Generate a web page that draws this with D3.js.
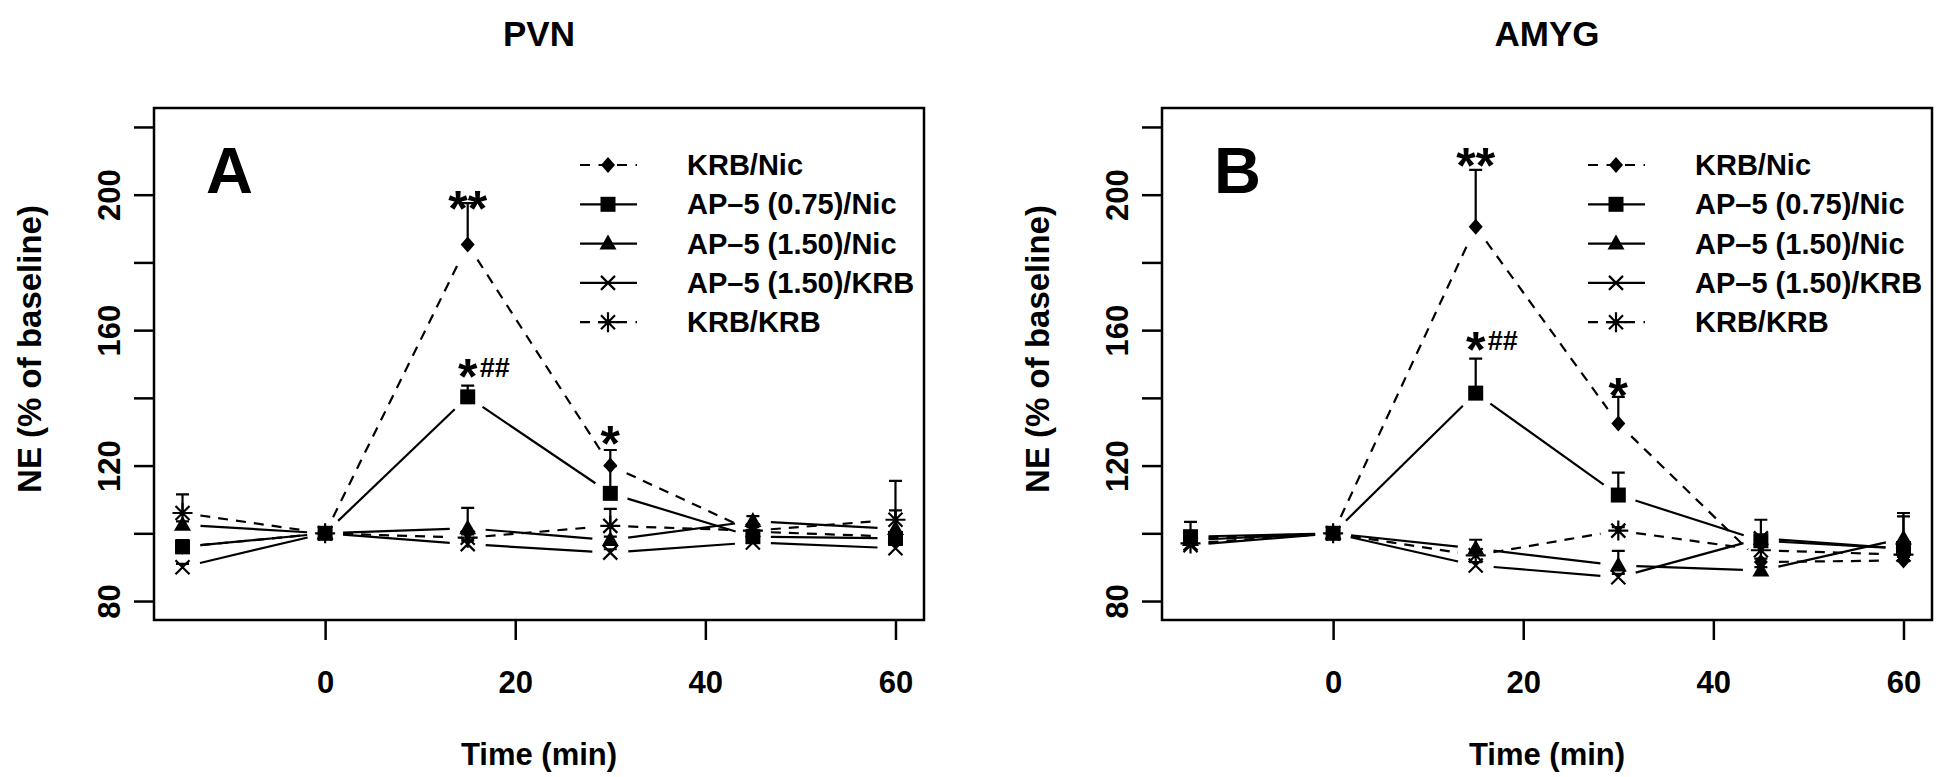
<!DOCTYPE html>
<html><head><meta charset="utf-8">
<script src="https://cdn.jsdelivr.net/npm/d3@7"></script>
<style>
body{margin:0;background:#fff}
svg{display:block}
text{font-family:"Liberation Sans",Arial,Helvetica,sans-serif;font-weight:bold;fill:#000}
</style>
</head><body><svg id="chart" width="1944" height="777"></svg>
<script>
// ---------------- data ----------------
const times = [-15, 0, 15, 30, 45, 60];
const seriesNames = ["KRB/Nic", "AP\u20135 (0.75)/Nic", "AP\u20135 (1.50)/Nic", "AP\u20135 (1.50)/KRB", "KRB/KRB"];

// PVN (panel A) means and SEM
const pvnKrbNic      = [96, 100, 185.3, 120.0, 100.5, 99];
const pvnAp075Nic    = [96, 100, 140.3, 111.8, 99, 98.5];
const pvnAp150Nic    = [102.5, 100, 101.5, 98, 103.6, 101.3];
const pvnAp150Krb    = [90, 100, 96.8, 94.3, 97.3, 95.6];
const pvnKrbKrb      = [106, 100, 98.7, 102.2, 100.8, 104];
const pvnKrbNicSe    = [0, 0, 12.2, 4.6, 2, 1];
const pvnAp075NicSe  = [2, 0, 3.3, 8, 1, 1];
const pvnAp150NicSe  = [1, 0, 6, 1, 1.5, 5.5];
const pvnAp150KrbSe  = [1, 0, 1, 1, 1, 1];
const pvnKrbKrbSe    = [5.5, 0, 1, 5, 1, 11.5];

// AMYG (panel B) means and SEM
const amygKrbNic     = [98.5, 100, 190.5, 132.4, 91.5, 92];
const amygAp075Nic   = [99, 100, 141.4, 111.3, 97.8, 95.5];
const amygAp150Nic   = [98, 100, 95.5, 90.5, 89, 98.5];
const amygAp150Krb   = [96.5, 100, 90.5, 87, 98.5, 95.5];
const amygKrbKrb     = [97, 100, 93.5, 100.8, 95, 93.7];
const amygKrbNicSe   = [1, 0, 16.8, 7.9, 1, 1];
const amygAp075NicSe = [4.4, 0, 10.2, 6.6, 6.2, 9.5];
const amygAp150NicSe = [1, 0, 2.6, 4.3, 1, 7.5];
const amygAp150KrbSe = [1, 0, 1, 1, 1, 1];
const amygKrbKrbSe   = [1, 0, 1, 1, 1, 1];

// significance annotations (x in min, y in % of baseline)
const annotText  = ["**", "*##", "*"];
const annotTime  = [15, 15, 30];
const pvnAnnotY  = [199.4, 149.8, 130.0];
const amygAnnotY = [212.1, 157.8, 144.0];

// axes
const yTicks = [80, 100, 120, 140, 160, 180, 200, 220];
const yTickLabels = [80, 120, 160, 200];
const xTicks = [0, 20, 40, 60];
const xLimits = [-15, 60];
const yLimits = [80, 220];

const panelTitles = ["PVN", "AMYG"];
const panelLetters = ["A", "B"];
const xAxisTitle = "Time (min)";
const yAxisTitle = "NE (% of baseline)";

// ---------------- styles / layout ----------------
const shapes = ["diamond", "square", "triangle", "cross", "asterisk"];
const dashed = [true, false, false, false, true];

const panels = [
  {left: 154, right: 924, title: panelTitles[0], letter: panelLetters[0],
   means: [pvnKrbNic, pvnAp075Nic, pvnAp150Nic, pvnAp150Krb, pvnKrbKrb],
   ses: [pvnKrbNicSe, pvnAp075NicSe, pvnAp150NicSe, pvnAp150KrbSe, pvnKrbKrbSe],
   annotY: pvnAnnotY},
  {left: 1162, right: 1932, title: panelTitles[1], letter: panelLetters[1],
   means: [amygKrbNic, amygAp075Nic, amygAp150Nic, amygAp150Krb, amygKrbKrb],
   ses: [amygKrbNicSe, amygAp075NicSe, amygAp150NicSe, amygAp150KrbSe, amygKrbKrbSe],
   annotY: amygAnnotY}
];
const plotTop = 108, plotBottom = 620;
const LW = 2.2;

const svg = d3.select("#chart");
svg.append("rect").attr("width", 1944).attr("height", 777).attr("fill", "#fff");

function pad(lim) { const s = (lim[1] - lim[0]) * 0.04; return [lim[0] - s, lim[1] + s]; }

function drawMarker(g, shape, cx, cy) {
  if (shape === "diamond") {
    g.append("path").attr("d", `M${cx},${cy-8}L${cx+7},${cy}L${cx},${cy+8}L${cx-7},${cy}Z`).attr("fill", "#000");
  } else if (shape === "square") {
    g.append("rect").attr("x", cx-7.5).attr("y", cy-7.5).attr("width", 15).attr("height", 15).attr("fill", "#000");
  } else if (shape === "triangle") {
    g.append("path").attr("d", `M${cx},${cy-9}L${cx+8.5},${cy+6}L${cx-8.5},${cy+6}Z`).attr("fill", "#000");
  } else if (shape === "cross") {
    g.append("path").attr("d", `M${cx-7},${cy-7}L${cx+7},${cy+7}M${cx-7},${cy+7}L${cx+7},${cy-7}`)
      .attr("stroke", "#000").attr("stroke-width", LW).attr("fill", "none");
  } else if (shape === "asterisk") {
    g.append("path").attr("d", `M${cx-7},${cy-7}L${cx+7},${cy+7}M${cx-7},${cy+7}L${cx+7},${cy-7}M${cx-10},${cy}L${cx+10},${cy}M${cx},${cy-10}L${cx},${cy+10}`)
      .attr("stroke", "#000").attr("stroke-width", LW).attr("fill", "none");
  }
}

panels.forEach(p => {
  const x = d3.scaleLinear().domain(pad(xLimits)).range([p.left, p.right]);
  const y = d3.scaleLinear().domain(pad(yLimits)).range([plotBottom, plotTop]);
  const g = svg.append("g");
  const cx = (p.left + p.right) / 2;

  // title
  g.append("text").attr("x", cx).attr("y", 46).attr("text-anchor", "middle")
    .attr("font-size", 35).text(p.title);

  // box
  g.append("rect").attr("x", p.left).attr("y", plotTop).attr("width", p.right - p.left)
    .attr("height", plotBottom - plotTop).attr("fill", "none").attr("stroke", "#000").attr("stroke-width", 2.5);

  // x axis
  const xAxis = d3.axisBottom(x).tickValues(xTicks).tickSize(20).tickPadding(31).tickFormat(d3.format("d"));
  const xg = g.append("g").attr("transform", `translate(0,${plotBottom})`).call(xAxis);
  xg.select(".domain").remove();
  xg.selectAll(".tick line").attr("stroke", "#000").attr("stroke-width", 2.5);
  xg.selectAll(".tick text").attr("font-size", 31).attr("font-family", null).attr("fill", "#000");

  // y axis
  const yAxis = d3.axisLeft(y).tickValues(yTicks).tickSize(20)
    .tickFormat(d => yTickLabels.includes(d) ? d : "");
  const yg = g.append("g").attr("transform", `translate(${p.left},0)`).call(yAxis);
  yg.select(".domain").remove();
  yg.selectAll(".tick line").attr("stroke", "#000").attr("stroke-width", 2.5);
  yg.selectAll(".tick text").attr("font-size", 31).attr("font-family", null).attr("fill", "#000")
    .attr("x", null).attr("dy", null).attr("text-anchor", "middle")
    .attr("transform", "translate(-45,0) rotate(-90)").attr("dominant-baseline", "central");

  // axis titles
  g.append("text").attr("x", cx).attr("y", 765).attr("text-anchor", "middle").attr("font-size", 31).text(xAxisTitle);
  g.append("text").attr("transform", `translate(${p.left - 125},${(plotTop + plotBottom) / 2 - 15}) rotate(-90)`)
    .attr("text-anchor", "middle").attr("dominant-baseline", "central").attr("font-size", 33).text(yAxisTitle);

  // panel letter
  g.append("text").attr("x", x(-15) + 47).attr("y", 193).attr("text-anchor", "middle")
    .attr("font-size", 65).text(p.letter);

  // series
  const gap = 18;
  p.means.forEach((vals, si) => {
    const pts = times.map((t, i) => [x(t), y(vals[i])]);
    for (let i = 0; i < pts.length - 1; i++) {
      const [x0, y0] = pts[i], [x1, y1] = pts[i + 1];
      const len = Math.hypot(x1 - x0, y1 - y0);
      if (len <= 2 * gap) continue;
      const ux = (x1 - x0) / len, uy = (y1 - y0) / len;
      g.append("line").attr("x1", x0 + ux * gap).attr("y1", y0 + uy * gap)
        .attr("x2", x1 - ux * gap).attr("y2", y1 - uy * gap)
        .attr("stroke", "#000").attr("stroke-width", LW)
        .attr("stroke-dasharray", dashed[si] ? "10,8" : null);
    }
    // error bars
    times.forEach((t, i) => {
      const se = p.ses[si][i];
      if (!se) return;
      const xx = x(t), y0 = y(vals[i]), y1 = y(vals[i] + se);
      g.append("path").attr("d", `M${xx},${y0}L${xx},${y1}M${xx-6.5},${y1}L${xx+6.5},${y1}`)
        .attr("stroke", "#000").attr("stroke-width", LW).attr("fill", "none");
    });
    pts.forEach(([px, py]) => drawMarker(g, shapes[si], px, py));
  });

  // annotations
  annotText.forEach((txt, i) => {
    const stars = txt.replace(/#/g, "");
    const hashes = txt.replace(/\*/g, "");
    const ax = x(annotTime[i]), ay = y(p.annotY[i]);
    const starSize = 50;
    g.append("text").attr("x", ax).attr("y", ay + starSize * 0.58).attr("text-anchor", "middle")
      .attr("font-size", starSize).text(stars);
    if (hashes) {
      g.append("text").attr("x", ax + starSize * 0.2 * stars.length + 2).attr("y", ay + 12)
        .attr("font-size", 27).text(hashes);
    }
  });

  // legend
  const lx0 = p.left + 426, lx1 = p.left + 483, lmx = p.left + 454, ltx = p.left + 533;
  seriesNames.forEach((name, si) => {
    const ly = 165 + si * 39.3;
    g.append("line").attr("x1", lx0).attr("x2", lx1).attr("y1", ly).attr("y2", ly)
      .attr("stroke", "#000").attr("stroke-width", LW)
      .attr("stroke-dasharray", dashed[si] ? "10,8.5" : null);
    drawMarker(g, shapes[si], lmx, ly);
    g.append("text").attr("x", ltx).attr("y", ly).attr("dominant-baseline", "central")
      .attr("font-size", 29).text(name);
  });
});
</script>
</body></html>
